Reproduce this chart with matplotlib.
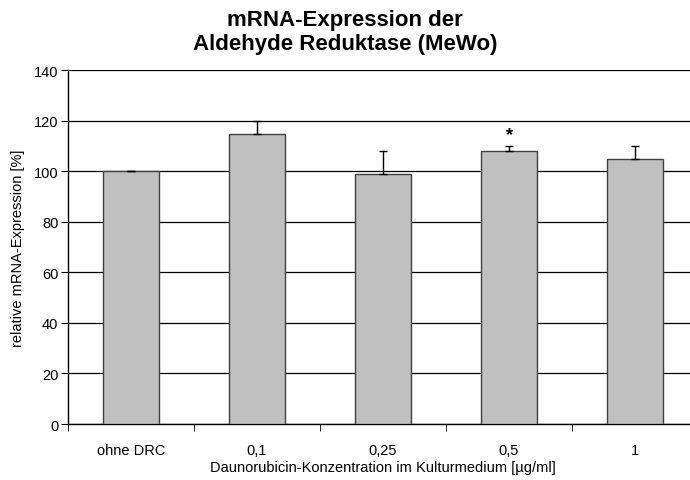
import numpy as np
import matplotlib.pyplot as plt

plt.rcParams['font.family'] = ['Liberation Sans', 'DejaVu Sans']

categories = ['ohne DRC', '0,1', '0,25', '0,5', '1']
values = [100.0, 114.6, 98.9, 108.1, 104.9]
errors = [0.3, 5.4, 9.2, 2.1, 5.0]
signif = ['', '', '', '*', '']

fig = plt.figure(figsize=(6.9, 4.81), dpi=100)
ax = fig.add_axes([0.0986, 0.1164, 0.913, 0.7355])

x = np.arange(len(categories))
ax.bar(x, values, width=0.44, color='#c0c0c0', edgecolor='#404040', linewidth=1.0, zorder=3)
ax.errorbar(x, values, yerr=[np.zeros(len(errors)), errors], fmt='none',
            ecolor='black', elinewidth=1.0, capsize=3, capthick=1.0, zorder=4)
for xi, v, e, s in zip(x, values, errors, signif):
    if s:
        ax.text(xi, v + e + 1.0, s, ha='center', va='bottom', fontsize=13, fontweight='bold')

ax.set_ylim(0, 140)
ax.set_yticks(range(0, 141, 20))
ax.yaxis.grid(True, color='black', linewidth=0.9, zorder=0)
ax.set_xlim(-0.5, len(categories) - 0.5)
ax.set_xticks(x)
ax.set_xticklabels(categories, fontsize=10.5)
ax.set_xticks(np.arange(-0.5, len(categories), 1.0), minor=True)
ax.tick_params(axis='x', which='major', length=0, pad=14)
ax.tick_params(axis='x', which='minor', length=5, direction='out')
ax.tick_params(axis='y', labelsize=10.5, length=5, direction='out', pad=2)

for side in ['top', 'right']:
    ax.spines[side].set_visible(False)
ax.spines['left'].set_linewidth(1.0)
ax.spines['bottom'].set_linewidth(1.0)

ax.set_ylabel('relative mRNA-Expression [%]', fontsize=10.5, labelpad=6)
ax.set_xlabel('Daunorubicin-Konzentration im Kulturmedium [µg/ml]', fontsize=10.5, labelpad=2)

fig.text(0.5, 0.933, 'mRNA-Expression der\nAldehyde Reduktase (MeWo)', ha='center', va='center',
         fontsize=16, fontweight='bold', linespacing=1.2)

plt.savefig('out.png', dpi=100)
